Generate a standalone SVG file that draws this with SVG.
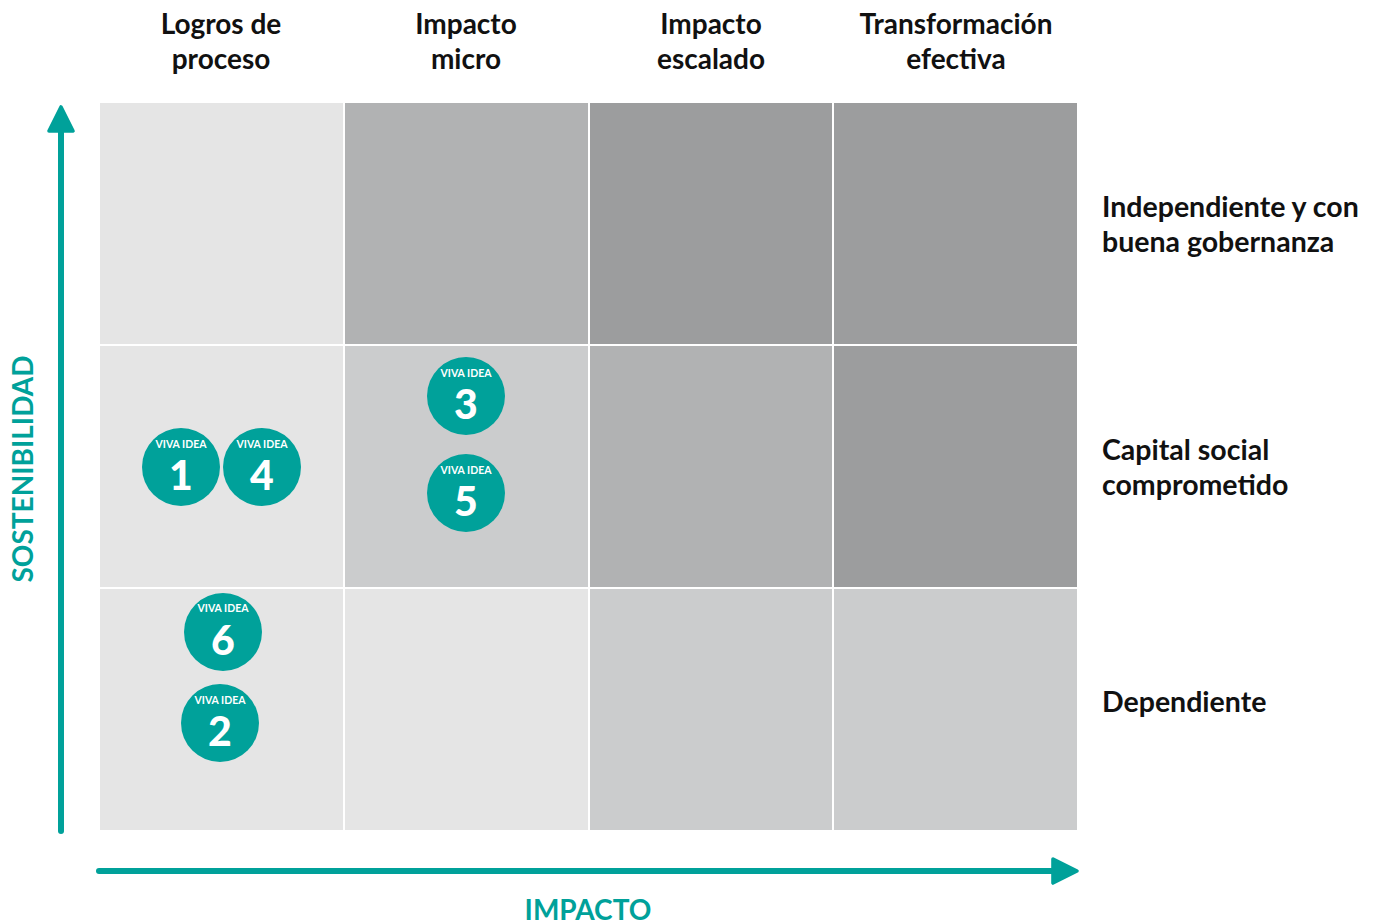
<svg xmlns="http://www.w3.org/2000/svg" width="1375" height="924" viewBox="0 0 1375 924">
<style>
.c1{fill:#e5e5e5}.c2{fill:#cbcccd}.c3{fill:#b1b2b3}.c4{fill:#9c9d9e}
.h{font-family:Lato,"Liberation Sans",sans-serif;font-size:28px;font-weight:bold;fill:#111;text-anchor:middle}
.r{font-family:Lato,"Liberation Sans",sans-serif;font-size:28.5px;font-weight:bold;fill:#111}
.ax{font-family:Lato,"Liberation Sans",sans-serif;font-size:28px;font-weight:bold;fill:#00a19a;text-anchor:middle}
.dot{fill:#00a19a}
.v{font-family:Lato,"Liberation Sans",sans-serif;font-size:10.5px;font-weight:bold;fill:#fff;text-anchor:middle}
.n{font-family:Lato,"Liberation Sans",sans-serif;font-size:41px;font-weight:900;fill:#fff;text-anchor:middle}
.axis{stroke:#00a19a;stroke-width:6;fill:none;stroke-linecap:round}
</style>
<defs>
<marker id="ah" viewBox="0 0 10 10" refX="2" refY="5" markerWidth="5" markerHeight="5" orient="auto" markerUnits="strokeWidth">
<path d="M1,1 L9,5 L1,9 Z" fill="#00a19a" stroke="#00a19a" stroke-width="1.2" stroke-linejoin="round"/>
</marker>
</defs>
<g id="grid">
<rect class="c1" x="100" y="103" width="243" height="241"/>
<rect class="c3" x="345" y="103" width="243" height="241"/>
<rect class="c4" x="590" y="103" width="242" height="241"/>
<rect class="c4" x="834" y="103" width="243" height="241"/>
<rect class="c1" x="100" y="346" width="243" height="241"/>
<rect class="c2" x="345" y="346" width="243" height="241"/>
<rect class="c3" x="590" y="346" width="242" height="241"/>
<rect class="c4" x="834" y="346" width="243" height="241"/>
<rect class="c1" x="100" y="589" width="243" height="241"/>
<rect class="c1" x="345" y="589" width="243" height="241"/>
<rect class="c2" x="590" y="589" width="242" height="241"/>
<rect class="c2" x="834" y="589" width="243" height="241"/>
</g>
<g id="connectors">
<line class="axis" x1="61" y1="831" x2="61" y2="128" marker-end="url(#ah)"/>
<line class="axis" x1="99" y1="871" x2="1056" y2="871" marker-end="url(#ah)"/>
</g>
<g id="headers">
<text class="h" x="221" y="34">Logros de</text><text class="h" x="221" y="69">proceso</text>
<text class="h" x="466" y="34">Impacto</text><text class="h" x="466" y="69">micro</text>
<text class="h" x="711" y="34">Impacto</text><text class="h" x="711" y="69">escalado</text>
<text class="h" x="956" y="34">Transformación</text><text class="h" x="956" y="69">efectiva</text>
</g>
<g id="rowlabels">
<text class="r" x="1102" y="217">Independiente y con</text><text class="r" x="1102" y="252">buena gobernanza</text>
<text class="r" x="1102" y="460">Capital social</text><text class="r" x="1102" y="495">comprometido</text>
<text class="r" x="1102" y="712">Dependiente</text>
</g>
<g id="axislabels">
<text class="ax" x="588" y="920">IMPACTO</text>
<text class="ax" transform="translate(33,469) rotate(-90)">SOSTENIBILIDAD</text>
</g>
<g id="idea1"><circle class="dot" cx="181" cy="467" r="39"/><text class="v" x="181" y="448">VIVA IDEA</text><text class="n" x="181" y="490">1</text></g>
<g id="idea4"><circle class="dot" cx="262" cy="467" r="39"/><text class="v" x="262" y="448">VIVA IDEA</text><text class="n" x="262" y="490">4</text></g>
<g id="idea3"><circle class="dot" cx="466" cy="396" r="39"/><text class="v" x="466" y="377">VIVA IDEA</text><text class="n" x="466" y="419">3</text></g>
<g id="idea5"><circle class="dot" cx="466" cy="493" r="39"/><text class="v" x="466" y="474">VIVA IDEA</text><text class="n" x="466" y="516">5</text></g>
<g id="idea6"><circle class="dot" cx="223" cy="632" r="39"/><text class="v" x="223" y="612">VIVA IDEA</text><text class="n" x="223" y="655">6</text></g>
<g id="idea2"><circle class="dot" cx="220" cy="723" r="39"/><text class="v" x="220" y="704">VIVA IDEA</text><text class="n" x="220" y="746">2</text></g>
</svg>
